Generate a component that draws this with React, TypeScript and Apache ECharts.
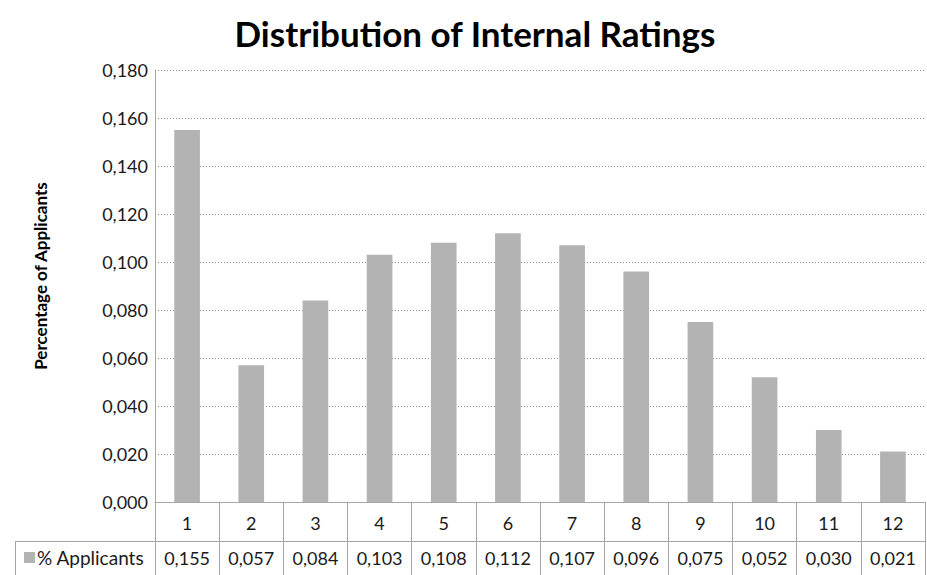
import React, { useEffect, useRef } from "react";
import * as echarts from "echarts";

const title = "Distribution of Internal Ratings";
const yAxisTitle = "Percentage of Applicants";
const seriesName = "% Applicants";
const categories = ["1", "2", "3", "4", "5", "6", "7", "8", "9", "10", "11", "12"];
const values = [0.155, 0.057, 0.084, 0.103, 0.108, 0.112, 0.107, 0.096, 0.075, 0.052, 0.03, 0.021];

const fmt = (v: number) => v.toFixed(3).replace(".", ",");
const FONT = "Lato, 'Noto Sans', sans-serif";
const LINE = "#A6A6A6";
const TXT = "#1a1a1a";

export default function App() {
  const ref = useRef<HTMLDivElement>(null);
  useEffect(() => {
    if (!ref.current) return;
    const chart = echarts.init(ref.current, null, { renderer: "svg" });
    chart.setOption({
      animation: false,
      backgroundColor: "#ffffff",
      textStyle: { fontFamily: FONT },
      title: {
        text: title,
        left: 470,
        textAlign: "center",
        top: 10,
        textStyle: { fontFamily: FONT, fontWeight: "bold", fontSize: 35, color: "#000" },
      },
      legend: {
        left: 19,
        top: 543,
        itemWidth: 11,
        itemHeight: 11,
        icon: "rect",
        textStyle: { fontFamily: FONT, fontSize: 19, color: TXT, padding: [0, 0, 0, -3] },
        data: [seriesName],
      },
      grid: { left: 155, right: 2, top: 70, bottom: 73, containLabel: false },
      xAxis: [
        {
          type: "category",
          data: categories,
          position: "bottom",
          axisLine: { show: true, lineStyle: { color: LINE, width: 1 } },
          axisTick: { show: true, length: 73, alignWithLabel: false, lineStyle: { color: LINE } },
          axisLabel: { margin: 12, fontFamily: FONT, fontSize: 18, color: TXT },
          splitLine: { show: false },
        },
        {
          type: "category",
          data: categories,
          position: "bottom",
          offset: 39,
          axisLine: { show: false },
          axisTick: { show: false },
          axisLabel: {
            margin: 8,
            fontFamily: FONT,
            fontSize: 18,
            color: TXT,
            formatter: (_v: string, i: number) => fmt(values[i]),
          },
        },
      ],
      yAxis: {
        type: "value",
        min: 0,
        max: 0.18,
        interval: 0.02,
        name: yAxisTitle,
        nameLocation: "middle",
        nameGap: 106,
        nameRotate: 90,
        nameTextStyle: {
          fontFamily: FONT,
          fontWeight: "bold",
          fontSize: 17,
          color: "#000",
          padding: [0, 0, 0, 20],
        },
        axisLine: { show: true, lineStyle: { color: LINE, width: 1 } },
        axisTick: { show: false },
        axisLabel: { margin: 7, fontFamily: FONT, fontSize: 18, color: TXT, formatter: (v: number) => fmt(v) },
        splitLine: { show: true, lineStyle: { color: "#8C8C8C", type: [1, 2], width: 1 } },
      },
      series: [
        {
          name: seriesName,
          type: "bar",
          xAxisIndex: 0,
          data: values,
          barCategoryGap: "60%",
          itemStyle: { color: "#B3B3B3" },
        },
      ],
      graphic: [
        { type: "line", shape: { x1: 15, y1: 541.5, x2: 925, y2: 541.5 }, style: { stroke: LINE, lineWidth: 1 } },
        { type: "line", shape: { x1: 15.5, y1: 541, x2: 15.5, y2: 575 }, style: { stroke: LINE, lineWidth: 1 } },
      ],
    });
    return () => chart.dispose();
  }, []);
  return (
    <div
      ref={ref}
      style={{ position: "absolute", left: 0, top: 0, width: 927, height: 575, background: "#fff" }}
    />
  );
}
